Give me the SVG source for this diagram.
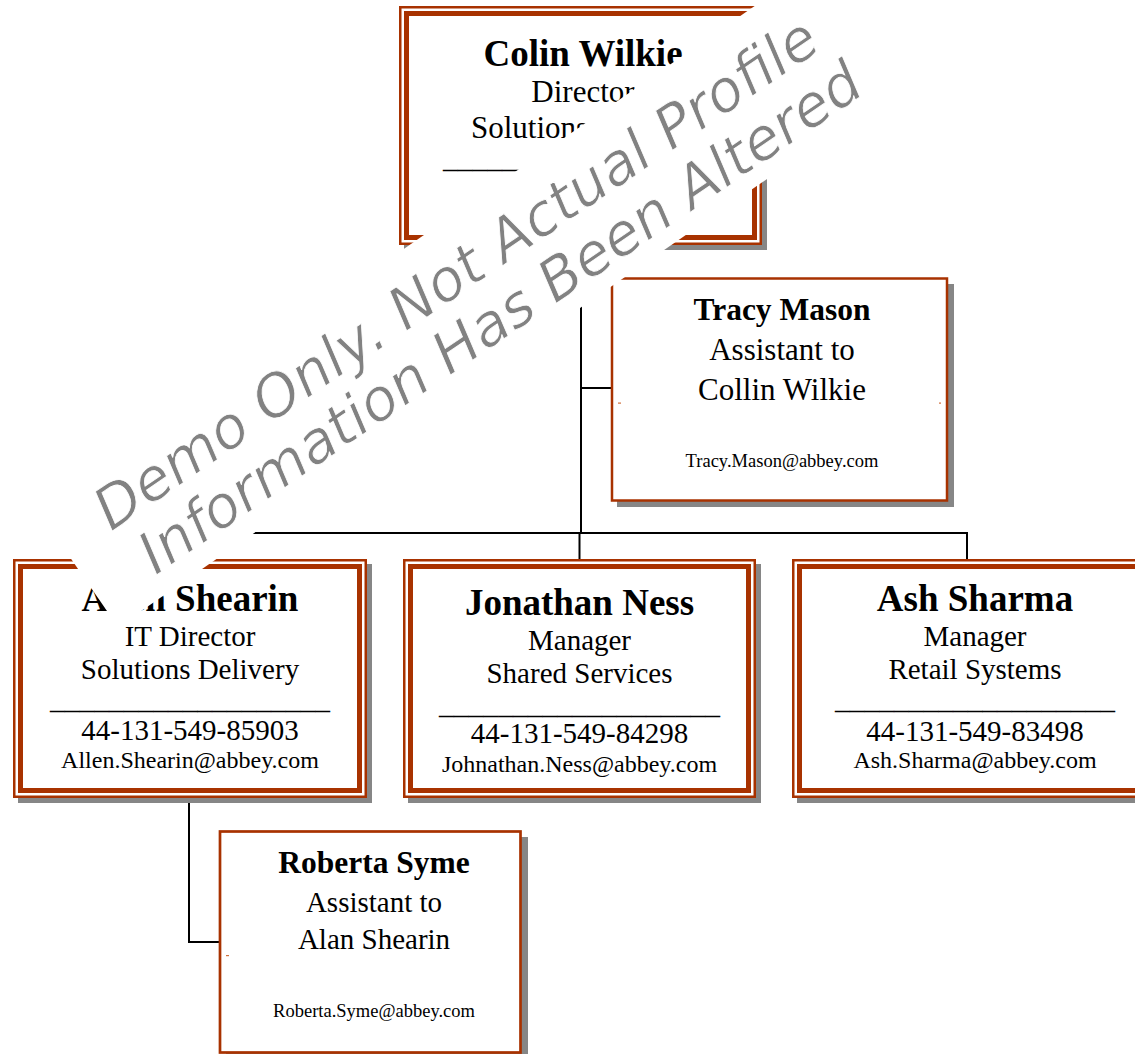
<svg xmlns="http://www.w3.org/2000/svg" width="1135" height="1054" viewBox="0 0 1135 1054">
<style>
.sh{fill:#868686}
.bg{fill:#fff}
.thin{fill:none;stroke:#A83200;stroke-width:2.5}
.thick{fill:none;stroke:#A83200;stroke-width:5}
.single{fill:#fff;stroke:#A83200;stroke-width:2.5}
.tick{fill:#D0703C}
.conn{fill:none;stroke:#000;stroke-width:2}
text{font-family:"Liberation Serif","Times New Roman",serif;fill:#000;text-anchor:middle}
.nm{font-weight:bold;font-size:37px}
.nms{font-weight:bold;font-size:31.5px}
.t{font-size:29px}
.t31{font-size:31px}
.em{font-size:24px}
.ems{font-size:18.5px}
.wm{font-family:"DejaVu Sans","Verdana",sans-serif;font-style:italic;font-size:58px;fill:#828282;stroke:#fff;stroke-width:0.8}
</style>
<rect width="1135" height="1054" fill="#fff"/>
<g id="connectors">
<path class="conn" d="M581,245V533"/>
<path class="conn" d="M581,388H612"/>
<path class="conn" d="M189,533H968"/>
<path class="conn" d="M579.5,533V559"/>
<path class="conn" d="M967,533V559"/>
<path class="conn" d="M189,533V559"/>
<path class="conn" d="M189,798V942H220"/>
</g>
<g id="node-colin">
<rect class="sh" x="404" y="11" width="363" height="239"/>
<rect class="bg" x="399" y="6" width="363" height="239"/>
<rect class="thin" x="400.25" y="7.25" width="360.5" height="236.5"/>
<rect class="thick" x="406.5" y="13.5" width="348" height="224"/>
<text class="nm" x="583" y="66">Colin Wilkie</text>
<text class="t31" x="583" y="102">Director</text>
<text class="t31" x="471" y="138" style="text-anchor:start">Solutions</text>
<text class="t" x="443" y="168" style="text-anchor:start" textLength="280" lengthAdjust="spacingAndGlyphs">___________________</text>
</g>
<g id="node-tracy">
<rect class="sh" x="617" y="284" width="337" height="223"/>
<rect class="single" x="612" y="278.5" width="335" height="222"/>
<rect class="tick" x="618" y="402.5" width="3" height="1.2"/>
<rect class="tick" x="939" y="402.5" width="2" height="1.2"/>
<text class="nms" x="782" y="320">Tracy Mason</text>
<text class="t31" x="782" y="360">Assistant to</text>
<text class="t31" x="782" y="400">Collin Wilkie</text>
<text class="ems" x="782" y="467">Tracy.Mason@abbey.com</text>
</g>
<g id="node-allen">
<rect class="sh" x="18" y="564" width="354" height="239"/>
<rect class="bg" x="13" y="559" width="354" height="239"/>
<rect class="thin" x="14.25" y="560.25" width="351.5" height="236.5"/>
<rect class="thick" x="20.5" y="566.5" width="339" height="224"/>
<text class="nm" x="190" y="611">Allen Shearin</text>
<text class="t" x="190" y="646">IT Director</text>
<text class="t" x="190" y="679">Solutions Delivery</text>
<text class="t" x="190" y="709" textLength="280" lengthAdjust="spacingAndGlyphs">___________________</text>
<text class="t" x="190" y="740">44-131-549-85903</text>
<text class="em" x="190" y="768">Allen.Shearin@abbey.com</text>
</g>
<g id="node-jonathan">
<rect class="sh" x="408" y="564" width="353" height="239"/>
<rect class="bg" x="403" y="559" width="353" height="239"/>
<rect class="thin" x="404.25" y="560.25" width="350.5" height="236.5"/>
<rect class="thick" x="410.5" y="566.5" width="338" height="224"/>
<text class="nm" x="579.5" y="615">Jonathan Ness</text>
<text class="t" x="579.5" y="650">Manager</text>
<text class="t" x="579.5" y="683">Shared Services</text>
<text class="t" x="579.5" y="714" textLength="281" lengthAdjust="spacingAndGlyphs">___________________</text>
<text class="t" x="579.5" y="743">44-131-549-84298</text>
<text class="em" x="579.5" y="772">Johnathan.Ness@abbey.com</text>
</g>
<g id="node-ash">
<rect class="sh" x="797" y="564" width="361" height="239"/>
<rect class="bg" x="792" y="559" width="361" height="239"/>
<rect class="thin" x="793.25" y="560.25" width="358.5" height="236.5"/>
<rect class="thick" x="799.5" y="566.5" width="346" height="224"/>
<text class="nm" x="975" y="611">Ash Sharma</text>
<text class="t" x="975" y="646">Manager</text>
<text class="t" x="975" y="679">Retail Systems</text>
<text class="t" x="975" y="709" textLength="280" lengthAdjust="spacingAndGlyphs">___________________</text>
<text class="t" x="975" y="741">44-131-549-83498</text>
<text class="em" x="975" y="768">Ash.Sharma@abbey.com</text>
</g>
<g id="node-roberta">
<rect class="sh" x="226" y="837" width="302" height="230"/>
<rect class="single" x="220" y="831.5" width="300.5" height="221" style="stroke-width:2.7"/>
<rect class="tick" x="226" y="955" width="3" height="1.2"/>
<text class="nms" x="374" y="873">Roberta Syme</text>
<text class="t" x="374" y="912">Assistant to</text>
<text class="t" x="374" y="949">Alan Shearin</text>
<text class="ems" x="374" y="1017">Roberta.Syme@abbey.com</text>
</g>
<g id="watermark">
<polygon fill="#fff" points="34,505 118,627 935,63 850,-60"/>
<text class="wm" transform="translate(467,290) rotate(-34.2)">Demo Only. Not Actual Profile</text>
<text class="wm" transform="translate(511,334) rotate(-34.2)">Information Has Been Altered</text>
</g>
</svg>
